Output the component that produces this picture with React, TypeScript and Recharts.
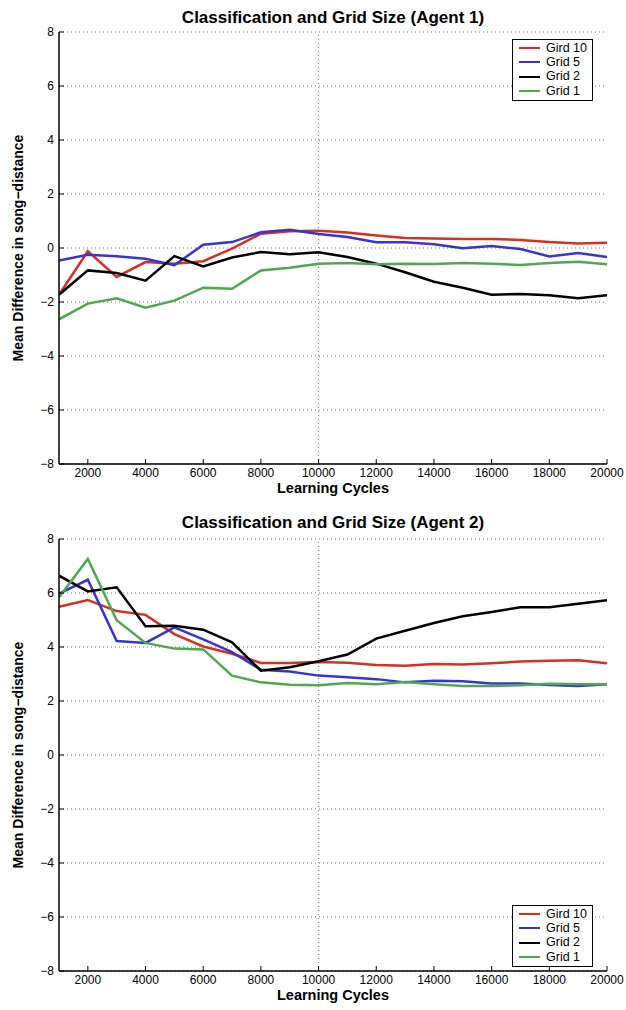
import React from 'react';
import {
  LineChart,
  Line,
  XAxis,
  YAxis,
  CartesianGrid,
  ReferenceLine,
  Label,
} from 'recharts';

const cycles = [
  1000, 2000, 3000, 4000, 5000, 6000, 7000, 8000, 9000, 10000,
  11000, 12000, 13000, 14000, 15000, 16000, 17000, 18000, 19000, 20000,
];

const xTicks = [2000, 4000, 6000, 8000, 10000, 12000, 14000, 16000, 18000, 20000];
const yTicks = [-8, -6, -4, -2, 0, 2, 4, 6, 8];

// Agent 1
const a1Grid10 = [-1.73, -0.12, -1.07, -0.52, -0.58, -0.49, -0.02, 0.53, 0.62, 0.64, 0.57, 0.46, 0.37, 0.35, 0.33, 0.33, 0.3, 0.22, 0.17, 0.19];
const a1Grid5 = [-0.46, -0.25, -0.31, -0.4, -0.64, 0.12, 0.22, 0.58, 0.68, 0.52, 0.41, 0.21, 0.21, 0.14, -0.01, 0.07, -0.04, -0.31, -0.19, -0.33];
const a1Grid2 = [-1.73, -0.83, -0.93, -1.21, -0.3, -0.68, -0.35, -0.15, -0.23, -0.16, -0.33, -0.58, -0.9, -1.25, -1.47, -1.73, -1.7, -1.75, -1.86, -1.75];
const a1Grid1 = [-2.64, -2.06, -1.86, -2.21, -1.95, -1.47, -1.51, -0.83, -0.73, -0.58, -0.56, -0.6, -0.58, -0.59, -0.56, -0.58, -0.63, -0.56, -0.51, -0.6];

// Agent 2
const a2Grid10 = [5.49, 5.74, 5.33, 5.19, 4.48, 4.02, 3.75, 3.41, 3.41, 3.44, 3.42, 3.33, 3.31, 3.37, 3.35, 3.4, 3.46, 3.49, 3.51, 3.4];
const a2Grid5 = [5.98, 6.49, 4.22, 4.15, 4.73, 4.28, 3.81, 3.16, 3.09, 2.94, 2.88, 2.81, 2.69, 2.75, 2.73, 2.65, 2.65, 2.59, 2.56, 2.62];
const a2Grid2 = [6.64, 6.06, 6.21, 4.77, 4.79, 4.64, 4.17, 3.12, 3.25, 3.47, 3.72, 4.31, 4.6, 4.89, 5.14, 5.3, 5.47, 5.47, 5.6, 5.73];
const a2Grid1 = [5.84, 7.26, 4.99, 4.15, 3.94, 3.91, 2.94, 2.69, 2.6, 2.58, 2.67, 2.62, 2.7, 2.62, 2.56, 2.56, 2.58, 2.64, 2.62, 2.62];

const seriesNames = ['Gird 10', 'Grid 5', 'Grid 2', 'Grid 1'];
const seriesColors = ['#d7301f', '#3535d2', '#000000', '#4fa84f'];

const FONT = '"Liberation Sans", Arial, Helvetica, sans-serif';

const buildRows = (s: number[][]) =>
  cycles.map((c, i) => ({ x: c, s0: s[0][i], s1: s[1][i], s2: s[2][i], s3: s[3][i] }));

const W = 626;
const H = 505;
const PLOT_TOP = 32;
const PLOT_LEFT = 59;
const PLOT_RIGHT = 607;
const PLOT_BOTTOM = 464;

const LegendBox = ({ top }: { top: number }) => (
  <div
    style={{
      position: 'absolute',
      left: 512,
      top,
      width: 81,
      boxSizing: 'border-box',
      border: '1px solid #000',
      background: '#fff',
      padding: '1px 0 2px 6px',
      fontFamily: FONT,
      fontSize: 12.5,
      lineHeight: '14.2px',
    }}
  >
    {seriesNames.map((n, i) => (
      <div key={n} style={{ display: 'flex', alignItems: 'center' }}>
        <span style={{ display: 'inline-block', width: 21, height: 0, borderTop: `2.5px solid ${seriesColors[i]}`, marginRight: 6 }} />
        <span>{n}</span>
      </div>
    ))}
  </div>
);

type PanelProps = {
  title: string;
  rows: ReturnType<typeof buildRows>;
  legendTop: number;
  titleTop: number;
  top: number;
};

const Panel = ({ title, rows, legendTop, titleTop, top }: PanelProps) => {
  const tickStyle = { fontFamily: FONT, fontSize: 12, fill: '#000' };
  return (
    <div style={{ position: 'absolute', left: 0, top, width: W, height: H }}>
      <div
        style={{
          position: 'absolute',
          left: PLOT_LEFT,
          width: PLOT_RIGHT - PLOT_LEFT,
          top: titleTop,
          textAlign: 'center',
          fontFamily: FONT,
          fontWeight: 'bold',
          fontSize: 17,
        }}
      >
        {title}
      </div>
      <LineChart
        width={W}
        height={H}
        data={rows}
        margin={{ top: PLOT_TOP, right: W - PLOT_RIGHT, left: 0, bottom: H - PLOT_BOTTOM - 35 }}
      >
        <CartesianGrid
          xAxisId="bottom"
          yAxisId="left"
          vertical={false}
          stroke="#777"
          strokeDasharray="1 3"
        />
        <ReferenceLine xAxisId="bottom" yAxisId="left" x={10000} stroke="#777" strokeDasharray="1 3" />
        <XAxis
          xAxisId="bottom"
          dataKey="x"
          type="number"
          domain={[1000, 20000]}
          ticks={xTicks}
          allowDataOverflow
          height={35}
          tickSize={-5}
          tickMargin={9}
          tick={tickStyle}
          axisLine={{ stroke: '#000', strokeWidth: 1.5 }}
          tickLine={{ stroke: '#000' }}
        >
          <Label
            value="Learning Cycles"
            position="insideBottom"
            offset={6}
            style={{ fontFamily: FONT, fontWeight: 'bold', fontSize: 14.5, fill: '#000' }}
          />
        </XAxis>
        <XAxis
          xAxisId="top"
          orientation="top"
          dataKey="x"
          type="number"
          domain={[1000, 20000]}
          ticks={xTicks}
          height={0}
          tickSize={-5}
          tickFormatter={() => ''}
          axisLine={{ stroke: '#000', strokeWidth: 1.5 }}
          tickLine={{ stroke: '#000' }}
        />
        <YAxis
          yAxisId="left"
          type="number"
          domain={[-8, 8]}
          ticks={yTicks}
          width={PLOT_LEFT}
          tickSize={-5}
          tickMargin={10}
          tick={tickStyle}
          tickFormatter={(v: number) => (v < 0 ? `\u2212${Math.abs(v)}` : `${v}`)}
          axisLine={{ stroke: '#000', strokeWidth: 1.5 }}
          tickLine={{ stroke: '#000' }}
        >
          <Label
            value={'Mean Difference in song\u2212distance'}
            angle={-90}
            position="insideLeft"
            offset={18}
            style={{ textAnchor: 'middle', fontFamily: FONT, fontWeight: 'bold', fontSize: 14, fill: '#000' }}
          />
        </YAxis>
        <YAxis
          yAxisId="right"
          orientation="right"
          type="number"
          domain={[-8, 8]}
          ticks={yTicks}
          width={0}
          tickSize={-5}
          tickFormatter={() => ''}
          axisLine={{ stroke: '#000', strokeWidth: 1.5 }}
          tickLine={{ stroke: '#000' }}
        />
        {[0, 1, 2, 3].map((i) => (
          <Line
            key={i}
            xAxisId="bottom"
            yAxisId="left"
            type="linear"
            dataKey={`s${i}`}
            name={seriesNames[i]}
            stroke={seriesColors[i]}
            strokeWidth={2.5}
            dot={false}
            isAnimationActive={false}
          />
        ))}
      </LineChart>
      <LegendBox top={legendTop} />
    </div>
  );
};

const App = () => (
  <div style={{ position: 'absolute', left: 0, top: 0, width: W, height: 1010, background: '#fff' }}>
    <Panel
      title="Classification and Grid Size (Agent 1)"
      rows={buildRows([a1Grid10, a1Grid5, a1Grid2, a1Grid1])}
      legendTop={39}
      titleTop={8}
      top={0}
    />
    <Panel
      title="Classification and Grid Size (Agent 2)"
      rows={buildRows([a2Grid10, a2Grid5, a2Grid2, a2Grid1])}
      legendTop={398}
      titleTop={6}
      top={507}
    />
  </div>
);

export default App;
